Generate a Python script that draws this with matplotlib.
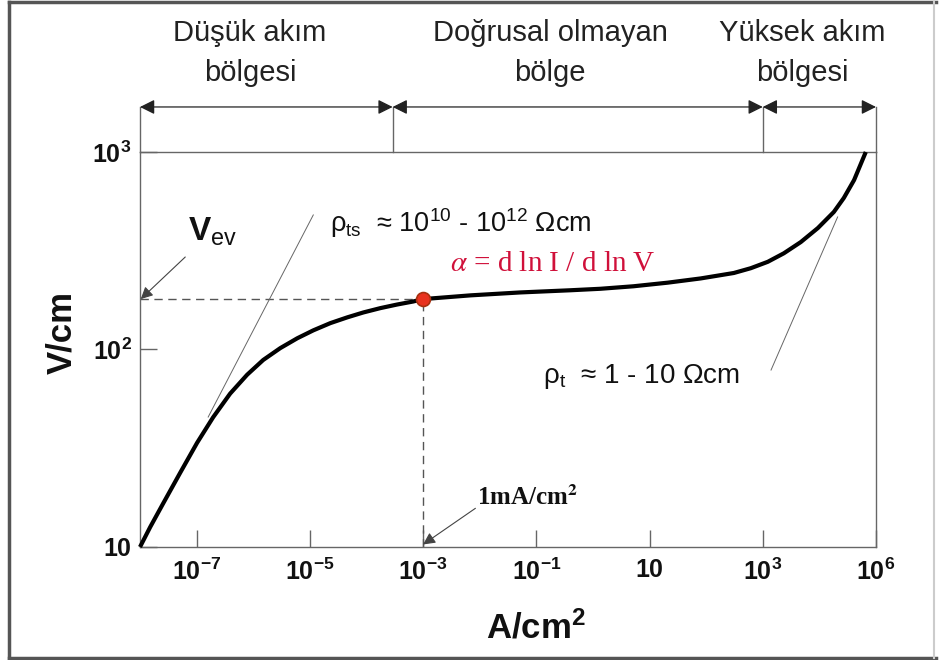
import numpy as np
import matplotlib.pyplot as plt
from matplotlib.lines import Line2D
from matplotlib.ticker import NullLocator
from matplotlib.transforms import blended_transform_factory

plt.rcParams['font.family'] = ['Liberation Sans', 'DejaVu Sans']
plt.rcParams['mathtext.fontset'] = 'custom'
plt.rcParams['mathtext.rm'] = 'Liberation Sans'
plt.rcParams['mathtext.bf'] = 'Liberation Sans:bold'
plt.rcParams['mathtext.it'] = 'Liberation Sans:italic'

# current density (A/cm^2) vs field (V/cm) along the characteristic
current = [1e-8, 1.51e-8, 2.56e-8, 5.1e-8, 1.02e-7, 1.96e-7, 3.91e-7, 7.8e-7,
           1.5e-6, 3.0e-6, 6.0e-6, 1.15e-5, 2.3e-5, 4.6e-5, 8.8e-5, 1.76e-4,
           3.5e-4, 6.7e-4, 1e-3, 6.9e-3, 0.052, 0.40, 1.36, 5.2, 21, 80, 308,
           614, 1227, 2355, 4700, 9400, 1.8e4, 2.7e4, 4.1e4, 6.6e4]
field = [10, 12.6, 16.6, 23.7, 33.7, 45.4, 59.8, 74.5,
         88.5, 101.6, 114, 125, 136, 145.5, 154, 162,
         169, 175, 180, 188, 194.5, 199.5, 203, 209, 218, 229, 244,
         258, 278, 307, 350, 412, 497, 585, 721, 1000]

# operating point: breakdown field at 1 mA/cm^2
j_op = 1e-3
v_ev = 180

# region boundaries and names
region_edges = [1e-8, 2.9e-4, 1e3, 1e5]
region_names = [("Düşük akım", "bölgesi"),
                ("Doğrusal olmayan", "bölge"),
                ("Yüksek akım", "bölgesi")]
region_centers = [250, 550, 802]

xticks = [1e-7, 1e-5, 1e-3, 1e-1, 10, 1e3, 1e5]
xticklabels = [r'$\mathbf{10^{-7}}$', r'$\mathbf{10^{-5}}$', r'$\mathbf{10^{-3}}$',
               r'$\mathbf{10^{-1}}$', r'$\mathbf{10}$', r'$\mathbf{10^{3}}$',
               r'$\mathbf{10^{6}}$']
yticks = [10, 100, 1000]
yticklabels = [r'$\mathbf{10}$', r'$\mathbf{10^{2}}$', r'$\mathbf{10^{3}}$']

W, H = 939, 660
fig = plt.figure(figsize=(W / 100, H / 100), dpi=100)
ax = fig.add_axes([140 / W, 113 / H, 736 / W, 395 / H])
ax.set_xscale('log')
ax.set_yscale('log')
ax.set_xlim(1e-8, 1e5)
ax.set_ylim(10, 1000)

frame = '#666666'
for sp in ax.spines.values():
    sp.set_color(frame)
    sp.set_linewidth(1.0)

ax.set_xticks(xticks)
ax.set_xticklabels(xticklabels)
ax.set_yticks(yticks)
ax.set_yticklabels(yticklabels)
ax.xaxis.set_minor_locator(NullLocator())
ax.yaxis.set_minor_locator(NullLocator())
ax.tick_params(axis='both', direction='in', length=12, width=1, color=frame,
               labelsize=18, labelcolor='#111111')
ax.tick_params(axis='x', pad=8)
ax.tick_params(axis='y', pad=6)

# main curve
ax.plot(current, field, color='black', lw=3.0, solid_joinstyle='round',
        solid_capstyle='butt', clip_on=False, zorder=3)

# guides to the operating point
ax.plot([1e-8, j_op], [v_ev, v_ev], ls=(0, (6, 4)), color='#555555', lw=1)
ax.plot([j_op, j_op], [10, v_ev], ls=(0, (6, 4)), color='#555555', lw=1)
ax.plot(j_op, v_ev, 'o', ms=10, mfc='#e8321e', mec='#a83010', mew=1.2, zorder=4)

arrow = dict(arrowstyle='-|>', color='#444444', lw=0.8, mutation_scale=18,
             shrinkA=0, shrinkB=0)
ax.annotate('', xy=(1.03e-8, v_ev), xytext=(6.3e-8, 294), arrowprops=arrow)
ax.annotate('', xy=(j_op, 10.3), xytext=(8.4e-3, 15.7), arrowprops=arrow)

# tangent leaders for the resistivities
ax.plot([1.15e-5, 1.6e-7], [480, 45.5], color='#666666', lw=0.7)
ax.plot([2.1e4, 1.4e3], [469, 78.7], color='#666666', lw=0.7)

# annotations
ax.text(7.1e-8, 394, r'$\mathbf{V}_{\mathrm{ev}}$', fontsize=24, va='center',
        ha='left', color='#111111')
ax.text(2.3e-5, 437, r'ρ$_{\mathrm{ts}}$  ≈ 10$^{10}$ - 10$^{12}$ Ωcm',
        fontsize=19.5, va='center', ha='left', color='#111111')
ax.text(3.0e-3, 270, r'$\alpha$ = d ln I / d ln V', fontsize=21,
        family='Liberation Serif', math_fontfamily='stix', color='#d0103a',
        va='center', ha='left')
ax.text(0.13, 72.6, r'ρ$_{\mathrm{t}}$  ≈ 1 - 10 Ωcm', fontsize=20,
        va='center', ha='left', color='#111111')
ax.text(9.1e-3, 16.3, r'1mA/cm$^{\mathbf{2}}$', fontsize=18, fontweight='bold',
        family='Liberation Serif', math_fontfamily='stix', va='baseline',
        ha='left', color='#111111')

# region bar above the plot
trans = blended_transform_factory(ax.transData, ax.transAxes)
bar_y = 1.114
for e in region_edges:
    ax.plot([e, e], [1, bar_y], transform=trans, clip_on=False, color=frame, lw=1)
for a, b in zip(region_edges[:-1], region_edges[1:]):
    ax.annotate('', xy=(b, bar_y), xytext=(a, bar_y), xycoords=trans,
                textcoords=trans,
                arrowprops=dict(arrowstyle='<|-|>', color='#222222', lw=0.9,
                                mutation_scale=22, shrinkA=0, shrinkB=0))
for (l1, l2), cx in zip(region_names, region_centers):
    fig.text(cx / W, 1 - 33 / H, l1, fontsize=21, ha='center', va='center',
             color='#222222')
    fig.text(cx / W, 1 - 73 / H, l2, fontsize=21, ha='center', va='center',
             color='#222222')

# axis titles
fig.text(536 / W, 1 - 628 / H, r'A/cm$^{\mathbf{2}}$', fontsize=25,
         fontweight='bold', ha='center', va='center', color='#111111')
fig.text(62 / W, 1 - 333 / H, 'V/cm', fontsize=25, fontweight='bold',
         rotation=90, ha='center', va='center', color='#111111')

# picture border
fig.add_artist(Line2D([9 / W, 936 / W], [1 - 2 / H, 1 - 2 / H], color='#555555', lw=2.5))
fig.add_artist(Line2D([9 / W, 936 / W], [2 / H, 2 / H], color='#555555', lw=2.5))
fig.add_artist(Line2D([9 / W, 9 / W], [2 / H, 1 - 2 / H], color='#555555', lw=2.5))
fig.add_artist(Line2D([934 / W, 934 / W], [2 / H, 1 - 2 / H], color='#cccccc', lw=1.5))

fig.savefig('out.png', dpi=100)
